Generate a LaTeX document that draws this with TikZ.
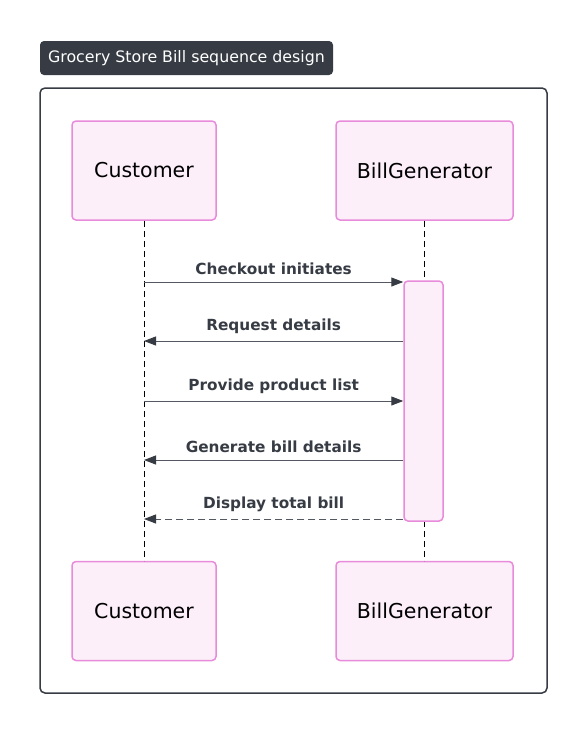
\documentclass[tikz,border=0pt]{standalone}
\usepackage{fontspec}
\setmainfont{DejaVu Sans}
\usetikzlibrary{positioning, arrows.meta}
\definecolor{boxfill}{HTML}{FDEFFA}
\definecolor{boxline}{HTML}{E88BDA}
\definecolor{inkdark}{HTML}{363B44}
\tikzset{
  actor/.style={draw=boxline, fill=boxfill, line width=1.5pt, rounded corners=4pt,
    minimum width=144pt, minimum height=99pt, inner sep=0pt, font=\fontsize{20.5}{24}\selectfont},
  msg/.style={draw=inkdark!85, line width=1pt, -{Triangle[length=12pt,width=9pt,inkdark]}},
  reply/.style={msg, dash pattern=on 7pt off 4pt},
  lbl/.style={font=\bfseries\fontsize{15.3}{18}\selectfont, text=inkdark, above=3pt, midway},
  life/.style={line width=0.8pt, dash pattern=on 6pt off 4pt}
}
\begin{document}
\begin{tikzpicture}[x=1pt,y=-1pt]
    \fill[white] (0,0) rectangle (587,734);
    \useasboundingbox (0,0) rectangle (587,734);

    % title tab and frame
    \node[fill=inkdark, text=white, rounded corners=4pt, minimum width=293pt, minimum height=34pt,
      inner sep=0pt, font=\fontsize{15.8}{19}\selectfont] (title) at (186.5,58) {Grocery Store Bill sequence design};
    \draw[inkdark, line width=1.5pt, rounded corners=5pt] (40,88) rectangle (547,693);

    % participants
    \node[actor] (cust) at (144,170.5) {Customer};
    \node[actor, minimum width=177pt] (bill) at (424.5,170.5) {BillGenerator};
    \node[actor] (custb) at (144,611) {Customer};
    \node[actor, minimum width=177pt] (billb) at (424.5,611) {BillGenerator};
    \draw[life] (cust.south) -- (custb.north);
    \draw[life] (bill.south) -- (billb.north);

    % activation
    \node[draw=boxline, fill=boxfill, line width=1.5pt, rounded corners=4pt,
      minimum width=39pt, minimum height=240pt] (act) at (423.5,401) {};

    % messages
    \draw[msg] (cust.south |- 0,282) -- (act.west |- 0,282) node[lbl]{Checkout initiates};
    \draw[msg] (act.west |- 0,341) -- (cust.south |- 0,341) node[lbl]{Request details};
    \draw[msg] (cust.south |- 0,401) -- (act.west |- 0,401) node[lbl]{Provide product list};
    \draw[msg] (act.west |- 0,460) -- (cust.south |- 0,460) node[lbl]{Generate bill details};
    \draw[reply] (act.west |- 0,519) -- (cust.south |- 0,519) node[lbl]{Display total bill};
\end{tikzpicture}
\end{document}
